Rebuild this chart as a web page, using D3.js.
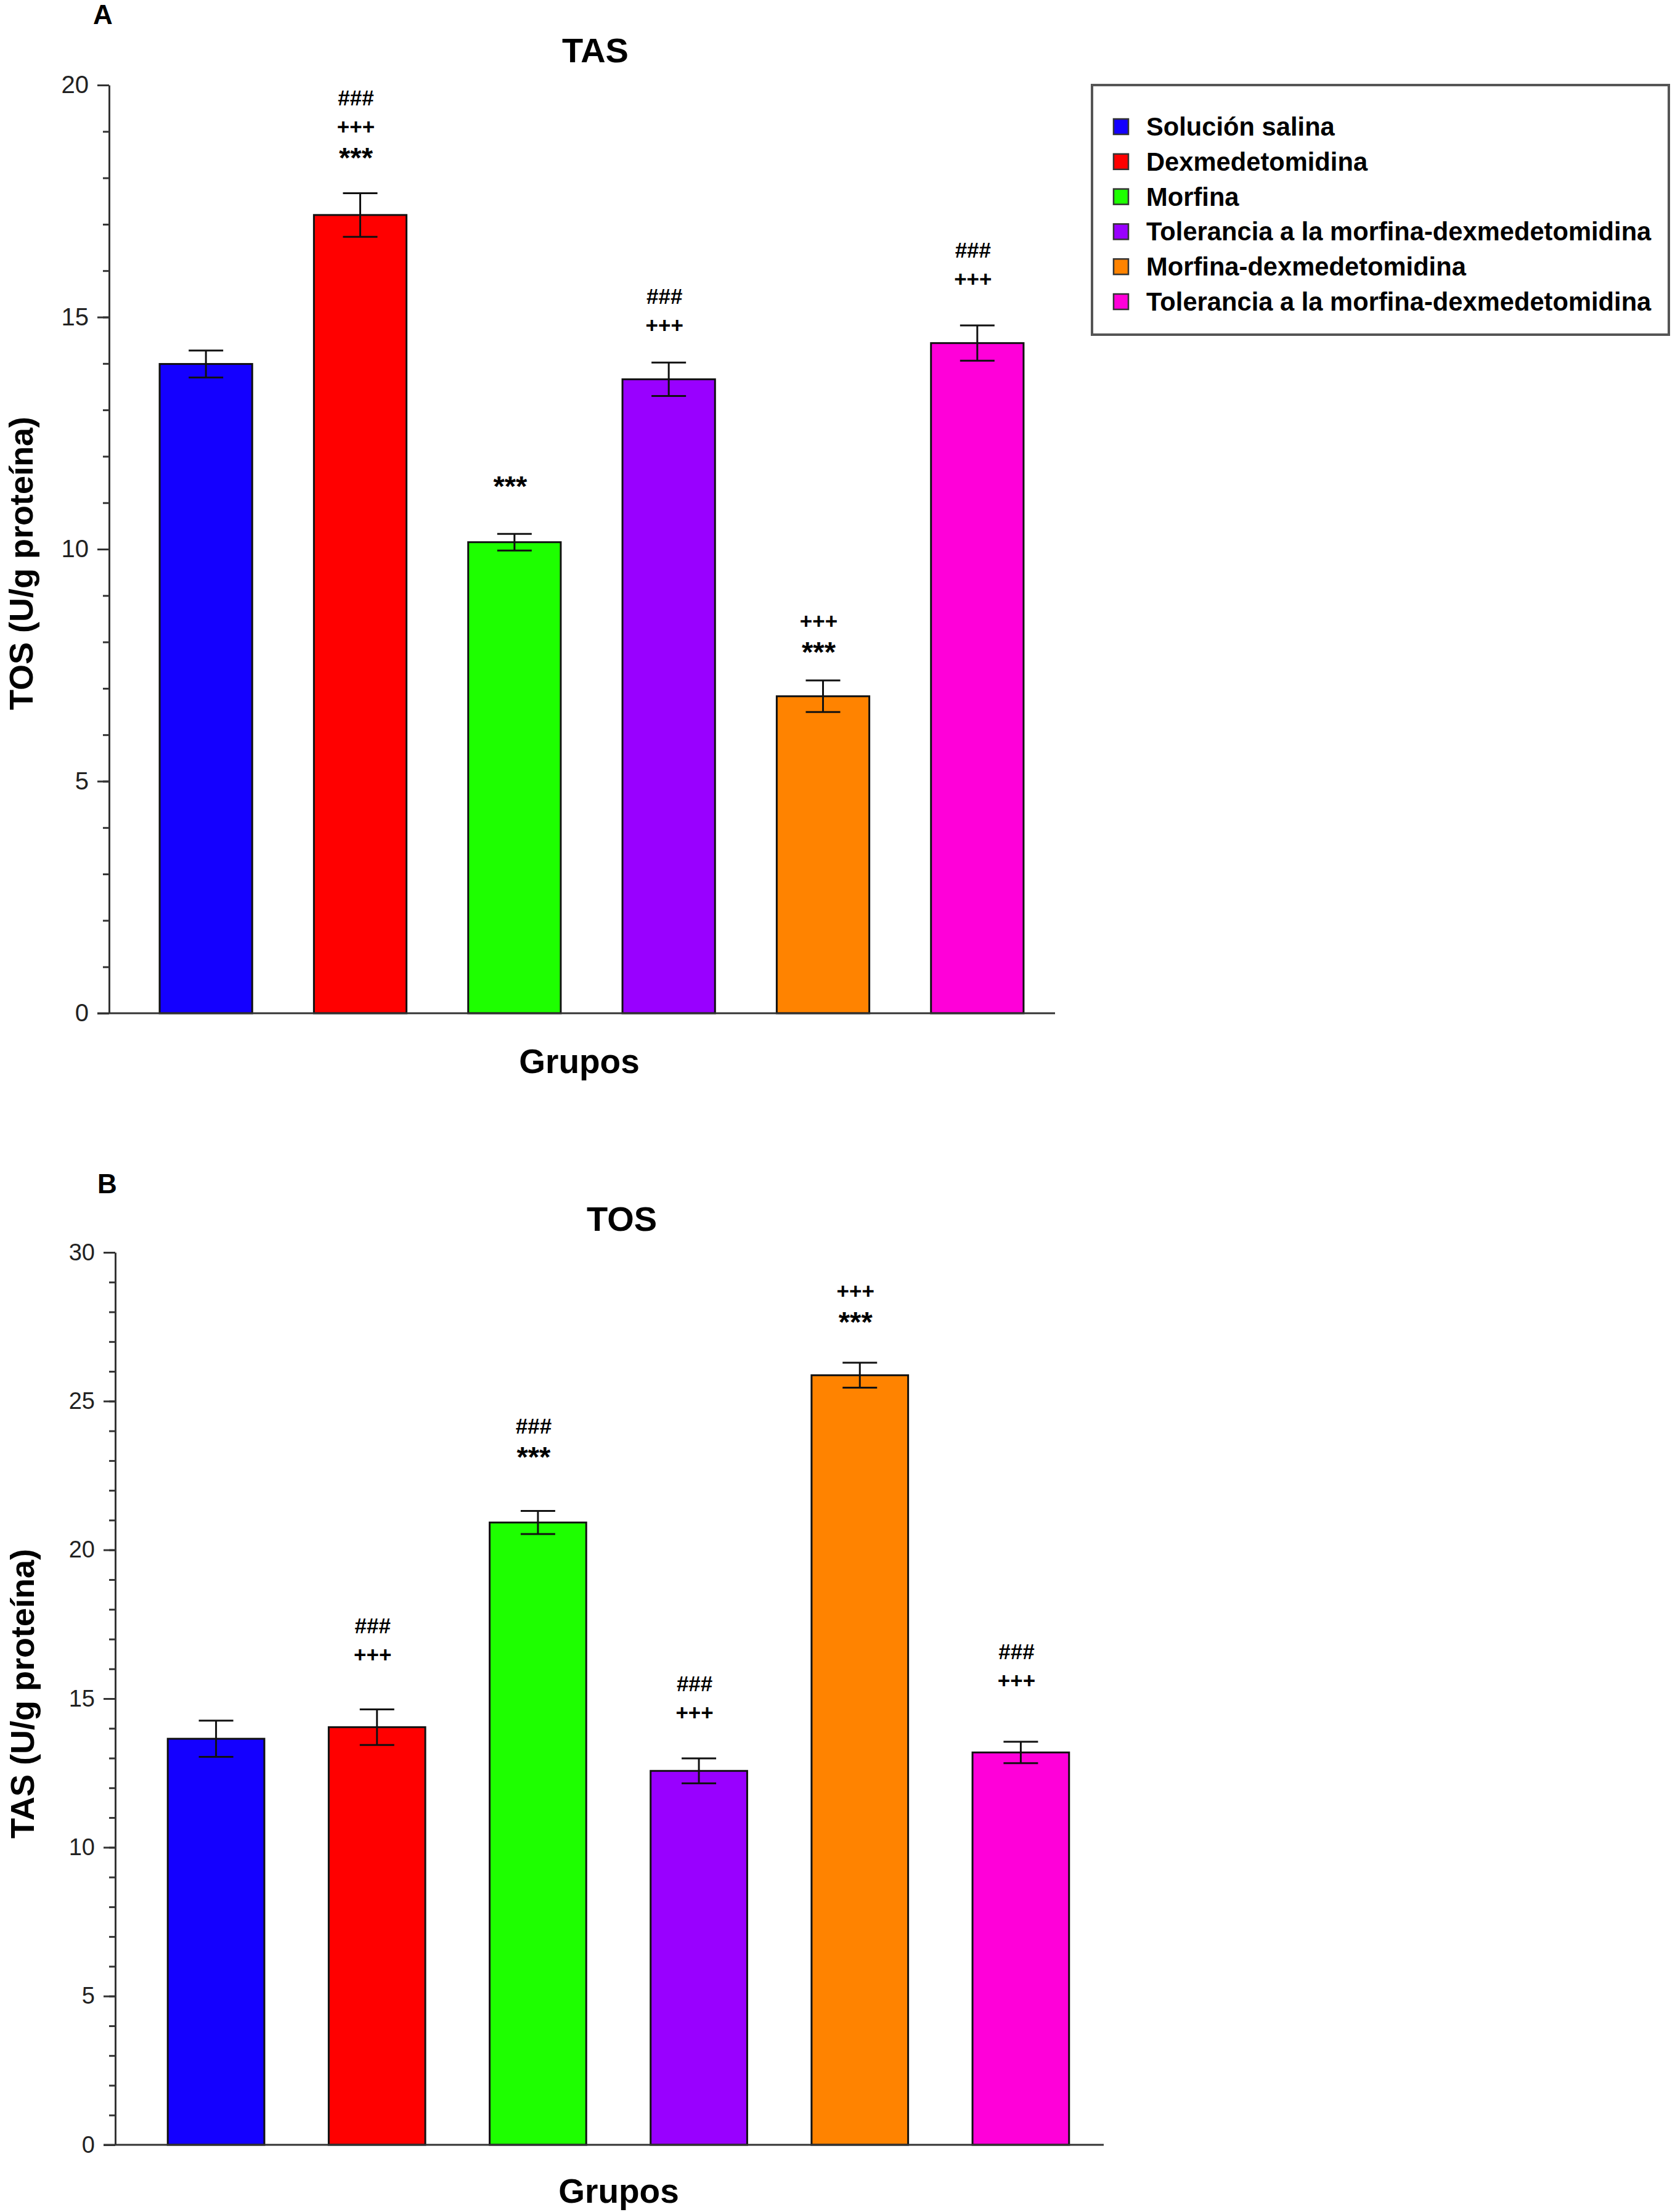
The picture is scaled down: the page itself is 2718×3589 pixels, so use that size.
<!DOCTYPE html>
<html>
<head>
<meta charset="utf-8">
<script src="https://cdn.jsdelivr.net/npm/d3@7"></script>
<style>
  body { margin: 0; background: #fff; }
  svg { display: block; }
  text { font-family: "Liberation Sans", Arial, sans-serif; }
</style>
</head>
<body>
<div id="chart"></div>
<script>
// groups and colours (same order in both panels)
var groups = [
  "Solución salina",
  "Dexmedetomidina",
  "Morfina",
  "Tolerancia a la morfina-dexmedetomidina",
  "Morfina-dexmedetomidina",
  "Tolerancia a la morfina-dexmedetomidina"
];
var groupColors = ["#1400ff", "#ff0000", "#1eff00", "#9900ff", "#ff8300", "#ff00d9"];

// panel A - TAS
var tasMeans = [13.99, 17.20, 10.15, 13.66, 6.83, 14.44];
var tasErrors = [0.29, 0.47, 0.18, 0.36, 0.34, 0.38];
var tasMarks = [[], ["###", "+++", "***"], ["***"], ["###", "+++"], ["+++", "***"], ["###", "+++"]];
var tasMarkBase = [null, 18.31, 11.24, 14.66, 7.66, 15.66];
var tasTicks = [0, 5, 10, 15, 20];

// panel B - TOS
var tosMeans = [13.65, 14.04, 20.92, 12.57, 25.87, 13.19];
var tosErrors = [0.61, 0.60, 0.39, 0.42, 0.42, 0.36];
var tosMarks = [[], ["###", "+++"], ["###", "***"], ["###", "+++"], ["+++", "***"], ["###", "+++"]];
var tosMarkBase = [null, 16.23, 22.93, 14.28, 27.47, 15.36];
var tosTicks = [0, 5, 10, 15, 20, 25, 30];

var svgWidth = 2718;
var svgHeight = 3589;

var svg = d3.select("#chart")
  .append("svg")
  .attr("width", svgWidth)
  .attr("height", svgHeight);

// asterisks are drawn bigger so they match the other marks in width
function markSize(s) {
  return s === "***" ? 47 : 35;
}

function drawPanel(p) {
  var g = svg.append("g");

  var yScale = d3.scaleLinear()
    .domain([0, d3.max(p.ticks)])
    .range([p.bottom, p.top]);

  var xScale = d3.scaleBand()
    .domain(d3.range(groups.length))
    .range(p.xRange)
    .paddingInner(0.4)
    .paddingOuter(0.2);

  // minor ticks every unit
  g.append("g")
    .attr("transform", `translate(${p.axisX}, 0)`)
    .call(d3.axisLeft(yScale).tickValues(d3.range(0, d3.max(p.ticks) + 1)).tickSize(10).tickFormat(""))
    .call(ax => ax.select(".domain").remove())
    .call(ax => ax.selectAll("line").attr("stroke", "#333").attr("stroke-width", 3));

  // major ticks with labels
  var yAxis = g.append("g")
    .attr("transform", `translate(${p.axisX}, 0)`)
    .call(d3.axisLeft(yScale).tickValues(p.ticks).tickSize(19).tickSizeOuter(0).tickPadding(14));
  yAxis.select(".domain").attr("stroke", "#333").attr("stroke-width", 3);
  yAxis.selectAll("line").attr("stroke", "#333").attr("stroke-width", 3);
  yAxis.selectAll("text")
    .attr("font-size", p.tickFont)
    .attr("fill", "#222")
    .style("font-family", "'Liberation Sans', Arial, sans-serif");

  // bars
  g.selectAll(".bar")
    .data(p.means)
    .enter()
    .append("rect")
    .attr("class", "bar")
    .attr("x", (d, i) => xScale(i))
    .attr("y", d => yScale(d))
    .attr("width", xScale.bandwidth())
    .attr("height", d => yScale(0) - yScale(d))
    .attr("fill", (d, i) => groupColors[i])
    .attr("stroke", "#111")
    .attr("stroke-width", 3);

  // baseline
  g.append("line")
    .attr("x1", p.axisX - 19)
    .attr("x2", p.xEnd)
    .attr("y1", yScale(0))
    .attr("y2", yScale(0))
    .attr("stroke", "#333")
    .attr("stroke-width", 3);

  // error bars
  var err = g.selectAll(".err")
    .data(p.means)
    .enter()
    .append("g")
    .attr("class", "err")
    .attr("stroke", "#111")
    .attr("stroke-width", 3);
  var cx = i => xScale(i) + xScale.bandwidth() / 2;
  err.append("line")
    .attr("x1", (d, i) => cx(i)).attr("x2", (d, i) => cx(i))
    .attr("y1", (d, i) => yScale(d + p.errors[i]))
    .attr("y2", (d, i) => yScale(d - p.errors[i]));
  err.append("line")
    .attr("x1", (d, i) => cx(i) - 28).attr("x2", (d, i) => cx(i) + 28)
    .attr("y1", (d, i) => yScale(d + p.errors[i]))
    .attr("y2", (d, i) => yScale(d + p.errors[i]));
  err.append("line")
    .attr("x1", (d, i) => cx(i) - 28).attr("x2", (d, i) => cx(i) + 28)
    .attr("y1", (d, i) => yScale(d - p.errors[i]))
    .attr("y2", (d, i) => yScale(d - p.errors[i]));

  // significance marks, stacked upward from the lowest line
  p.marks.forEach(function(lines, i) {
    var n = lines.length;
    lines.forEach(function(s, k) {
      g.append("text")
        .attr("x", cx(i) - 7)
        .attr("y", yScale(p.markBase[i]) - (n - 1 - k) * 47 + (s === "***" ? 7 : 0))
        .attr("text-anchor", "middle")
        .attr("font-size", markSize(s))
        .attr("font-weight", "bold")
        .text(s);
    });
  });

  // panel letter
  g.append("text")
    .attr("x", p.letterX)
    .attr("y", p.letterY)
    .attr("text-anchor", "middle")
    .attr("font-size", 44)
    .attr("font-weight", "bold")
    .text(p.letter);

  // title
  g.append("text")
    .attr("x", p.titleX)
    .attr("y", p.titleY)
    .attr("text-anchor", "middle")
    .attr("font-size", 56)
    .attr("font-weight", "bold")
    .text(p.title);

  // x label
  g.append("text")
    .attr("x", p.xLabelX)
    .attr("y", p.xLabelY)
    .attr("text-anchor", "middle")
    .attr("font-size", 55)
    .attr("font-weight", "bold")
    .text("Grupos");

  // y label
  g.append("text")
    .attr("transform", `translate(${p.yLabelX}, ${p.yLabelY}) rotate(-90)`)
    .attr("text-anchor", "middle")
    .attr("font-size", 54)
    .attr("font-weight", "bold")
    .text(p.yLabel);
}

drawPanel({
  means: tasMeans, errors: tasErrors, marks: tasMarks, markBase: tasMarkBase, ticks: tasTicks,
  top: 138, bottom: 1644, axisX: 177, xRange: [209, 1711], xEnd: 1712, tickFont: 40,
  letter: "A", letterX: 167, letterY: 39,
  title: "TAS", titleX: 966, titleY: 101,
  xLabelX: 940, xLabelY: 1741,
  yLabel: "TOS (U/g proteína)", yLabelX: 53, yLabelY: 914
});

drawPanel({
  means: tosMeans, errors: tosErrors, marks: tosMarks, markBase: tosMarkBase, ticks: tosTicks,
  top: 2032, bottom: 3480, axisX: 187, xRange: [220, 1787], xEnd: 1791, tickFont: 38,
  letter: "B", letterX: 174, letterY: 1936,
  title: "TOS", titleX: 1009, titleY: 1997,
  xLabelX: 1004, xLabelY: 3574,
  yLabel: "TAS (U/g proteína)", yLabelX: 55, yLabelY: 2748
});

// legend (panel A)
var legend = svg.append("g");
legend.append("rect")
  .attr("x", 1772)
  .attr("y", 138)
  .attr("width", 936)
  .attr("height", 405)
  .attr("fill", "#fff")
  .attr("stroke", "#555")
  .attr("stroke-width", 4);

var legendY = d3.scalePoint()
  .domain(d3.range(groups.length))
  .range([220, 504]);

var items = legend.selectAll(".item")
  .data(groups)
  .enter()
  .append("g")
  .attr("class", "item")
  .attr("transform", (d, i) => `translate(0, ${legendY(i)})`);

items.append("rect")
  .attr("x", 1807)
  .attr("y", -27)
  .attr("width", 24)
  .attr("height", 25)
  .attr("fill", (d, i) => groupColors[i])
  .attr("stroke", "#333")
  .attr("stroke-width", 2.5);

items.append("text")
  .attr("x", 1860)
  .attr("y", 0)
  .attr("font-size", 41.7)
  .attr("font-weight", "bold")
  .text(d => d);
</script>
</body>
</html>
